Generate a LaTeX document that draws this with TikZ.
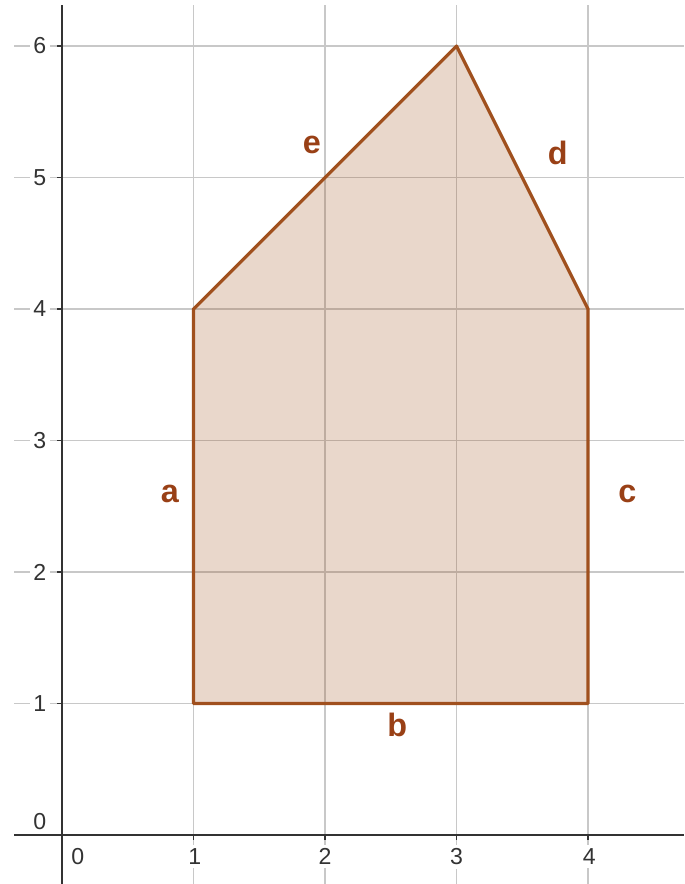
\documentclass[tikz,border=0pt]{standalone}
\usepackage{fontspec}
\setmainfont{Liberation Sans}
\definecolor{edgebrown}{HTML}{A0501E}
\definecolor{labelbrown}{HTML}{994016}
\definecolor{gridgray}{HTML}{C8C8C8}
\definecolor{axisgray}{HTML}{333333}
\begin{document}
\begin{tikzpicture}[x=2cm, y=2cm,
  % Grid and axis styles
  gridline/.style={draw=gridgray, line width=0.6pt},
  axisline/.style={draw=axisgray, line width=0.9pt},
  tickline/.style={draw=axisgray, line width=0.6pt},
  ticklabel/.style={fill=white, inner sep=1.5pt, text=axisgray, font=\fontsize{10}{11}\selectfont},
  % Polygon styles
  region/.style={fill=edgebrown, fill opacity=0.23},
  edge/.style={draw=edgebrown, line width=1.4pt, line join=round},
  sidelabel/.style={text=labelbrown, font=\fontsize{14}{16}\selectfont\bfseries}
]
\useasboundingbox (-0.472,-0.373) rectangle (4.73,6.35);

% Layer 1: Grid lines
\draw[gridline] (1,-0.373) -- (1,6.31);
\draw[gridline] (2,-0.373) -- (2,6.31);
\draw[gridline] (3,-0.373) -- (3,6.31);
\draw[gridline] (4,-0.373) -- (4,6.31);
\draw[gridline] (-0.365,1) -- (4.73,1);
\draw[gridline] (-0.365,2) -- (4.73,2);
\draw[gridline] (-0.365,3) -- (4.73,3);
\draw[gridline] (-0.365,4) -- (4.73,4);
\draw[gridline] (-0.365,5) -- (4.73,5);
\draw[gridline] (-0.365,6) -- (4.73,6);

% Layer 2: Tick labels (white background cuts the grid)
\node[ticklabel] (x0) at (0.12,-0.167) {0};
\node[ticklabel] (x1) at (1.01,-0.167) {1};
\node[ticklabel] (x2) at (2,-0.167) {2};
\node[ticklabel] (x3) at (3,-0.167) {3};
\node[ticklabel] (x4) at (4.01,-0.167) {4};
\node[ticklabel] (y0) at (-0.17,0.1) {0};
\node[ticklabel] (y1) at (-0.17,1) {1};
\node[ticklabel] (y2) at (-0.17,2) {2};
\node[ticklabel] (y3) at (-0.17,3) {3};
\node[ticklabel] (y4) at (-0.17,4) {4};
\node[ticklabel] (y5) at (-0.17,5) {5};
\node[ticklabel] (y6) at (-0.17,6) {6};

% Layer 3: Polygon
\coordinate (A) at (1,1);
\coordinate (B) at (4,1);
\coordinate (C) at (4,4);
\coordinate (D) at (3,6);
\coordinate (E) at (1,4);
\fill[region] (A) -- (B) -- (C) -- (D) -- (E) -- cycle;

% Layer 4: Axes and ticks
\draw[axisline] (-0.365,0) -- (4.73,0);
\draw[axisline] (0,-0.373) -- (0,6.31);
\draw[tickline] (1,0) -- (1,-0.04);
\draw[tickline] (2,0) -- (2,-0.04);
\draw[tickline] (3,0) -- (3,-0.04);
\draw[tickline] (4,0) -- (4,-0.04);
\draw[tickline] (0,1) -- (-0.04,1);
\draw[tickline] (0,2) -- (-0.04,2);
\draw[tickline] (0,3) -- (-0.04,3);
\draw[tickline] (0,4) -- (-0.04,4);
\draw[tickline] (0,5) -- (-0.04,5);
\draw[tickline] (0,6) -- (-0.04,6);

% Layer 5: Polygon sides and their names
\draw[edge] (A) -- (B) -- (C) -- (D) -- (E) -- cycle;
\node[sidelabel] (sa) at (0.82,2.59) {a};
\node[sidelabel] (sb) at (2.55,0.84) {b};
\node[sidelabel] (sc) at (4.30,2.59) {c};
\node[sidelabel] (sd) at (3.77,5.19) {d};
\node[sidelabel] (se) at (1.90,5.25) {e};

\end{tikzpicture}
\end{document}
